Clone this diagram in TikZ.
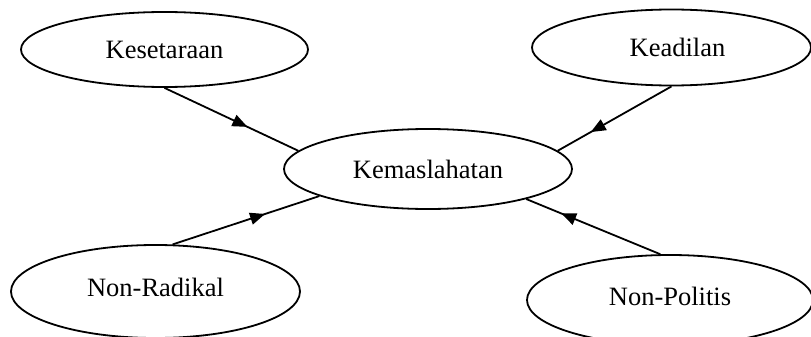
\documentclass[tikz,border=0pt]{standalone}
\usepackage{fontspec}
\setmainfont{Liberation Serif}
\usetikzlibrary{shapes.geometric,arrows.meta,decorations.markings}
\tikzset{
  bubble/.style={draw, ellipse, line width=1.8pt, inner sep=0pt,
    font=\fontsize{26.5}{30}\selectfont},
  link/.style={line width=1.8pt, postaction={decorate},
    decoration={markings, mark=at position #1 with {\arrow{Triangle[length=15pt,width=12pt]}}}}
}
\begin{document}
\begin{tikzpicture}[x=1pt,y=-1pt]
\useasboundingbox (0,0) rectangle (811,337);
\node[bubble, minimum width=287pt, minimum height=75pt] (kes) at (164.5,49.5) {Kesetaraan};
\node[bubble, minimum width=279pt, minimum height=76pt] (kea) at (671.5,47.5) {\hspace{12pt}Keadilan};
\node[bubble, minimum width=288pt, minimum height=80pt] (kem) at (428,169) {Kemaslahatan};
\node[bubble, minimum width=289pt, minimum height=93pt] (nr) at (155.5,291.5) {\raisebox{8pt}{Non-Radikal}};
\node[bubble, minimum width=286pt, minimum height=90pt] (np) at (670,300) {\raisebox{8pt}{Non-Politis}};
\draw[link=0.62] (kes.south) -- (kem.172);
\draw[link=0.71] (kea.south) -- (kem.8.6);
\draw[link=0.63] (nr.70) -- (kem.194.3);
\draw[link=0.74] (np.102) -- (kem.343.8);
\end{tikzpicture}
\end{document}
